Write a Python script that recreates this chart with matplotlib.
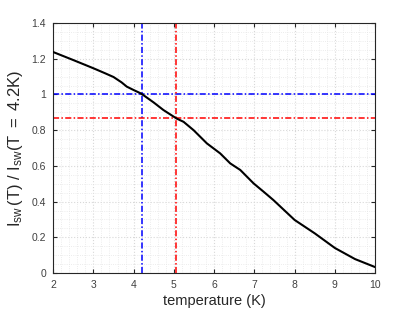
import matplotlib.pyplot as plt
import matplotlib as mpl
import numpy as np
from matplotlib.ticker import MultipleLocator

mpl.rcParams['font.family'] = 'sans-serif'
mpl.rcParams['font.sans-serif'] = ['Liberation Sans', 'DejaVu Sans']
mpl.rcParams['mathtext.fontset'] = 'custom'
mpl.rcParams['mathtext.rm'] = 'Liberation Sans'
mpl.rcParams['mathtext.it'] = 'Liberation Sans'

# curve
temp = [2.0, 2.5, 3.0, 3.3, 3.5, 3.7, 3.83, 4.0, 4.16, 4.22, 4.5, 4.74, 5.07,
        5.24, 5.49, 5.82, 6.15, 6.40, 6.65, 6.98, 7.23, 7.47, 8.0, 8.5, 9.0,
        9.5, 10.0]
ratio = [1.238, 1.193, 1.147, 1.118, 1.098, 1.068, 1.044, 1.025, 1.008, 1.0,
         0.955, 0.913, 0.865, 0.847, 0.800, 0.726, 0.670, 0.614, 0.577, 0.502,
         0.455, 0.409, 0.297, 0.222, 0.140, 0.078, 0.033]

t_blue, r_blue = 4.2, 1.0
t_red, r_red = 5.06, 0.87

fig = plt.figure(figsize=(4.15, 3.12), dpi=100)
ax = fig.add_axes([0.128, 0.125, 0.776, 0.801])

dd = (4, 1.5, 1, 1.5)
ax.plot(temp, ratio, color='black', linewidth=1.5, zorder=3)
ax.axvline(t_blue, color='blue', linestyle=(0, dd), linewidth=1.1, zorder=2)
ax.axhline(r_blue, color='blue', linestyle=(0, dd), linewidth=1.1, zorder=2)
ax.axvline(t_red, color='red', linestyle=(0, dd), linewidth=1.1, zorder=2)
ax.axhline(r_red, color='red', linestyle=(0, dd), linewidth=1.1, zorder=2)

ax.set_xlim(2, 10)
ax.set_ylim(0, 1.4)
ax.xaxis.set_major_locator(MultipleLocator(1))
ax.xaxis.set_minor_locator(MultipleLocator(0.2))
ax.yaxis.set_major_locator(MultipleLocator(0.2))
ax.yaxis.set_minor_locator(MultipleLocator(0.05))
ax.yaxis.set_major_formatter(mpl.ticker.FuncFormatter(lambda v, p: ('%g' % round(v, 2))))

ax.grid(which='major', color='#d8d8d8', linestyle=':', linewidth=0.8)
ax.grid(which='minor', color='#e6e6e6', linestyle=':', linewidth=0.6)
ax.set_axisbelow(True)

for s in ax.spines.values():
    s.set_color('#262626')
    s.set_linewidth(0.8)
ax.tick_params(which='major', direction='in', length=3, width=0.8, top=True, right=True,
               labelsize=7.5, colors='#262626', labelcolor='#404040', pad=5)
ax.tick_params(which='minor', length=0)

ax.set_xlabel('temperature (K)', fontsize=10.5, color='#262626', labelpad=3)
ax.set_ylabel(r'$\mathregular{I_{sw}\,(T)\ /\ I_{sw}(T\ =\ 4.2K)}$', fontsize=12,
              color='#262626', labelpad=5)

plt.savefig('out.png', dpi=100)
